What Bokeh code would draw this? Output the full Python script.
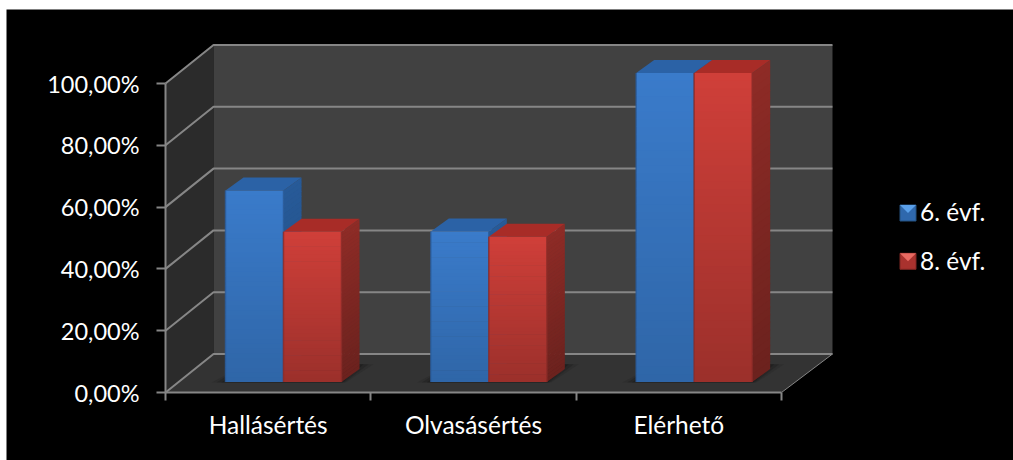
from bokeh.plotting import figure
from bokeh.models import Range1d, FixedTicker, Legend, LegendItem, ColumnDataSource
from bokeh.embed import file_html
from bokeh.resources import INLINE

categories = ["Hallásértés", "Olvasásértés", "Elérhető"]
series_names = ["6. évf.", "8. évf."]
values_6 = [62.0, 48.7, 100.0]
values_8 = [48.6, 47.0, 100.0]
y_ticks = [0, 20, 40, 60, 80, 100]
y_labels = {0: "0,00%", 20: "20,00%", 40: "40,00%", 60: "60,00%", 80: "80,00%", 100: "100,00%"}

FONT = "Lato"
GRID = "#868686"
PX_X = 616 / 3          # pixels per category
PX_Y = 3.09             # pixels per percent
WALL_DX, WALL_DY = 48 / PX_X, 38.5 / PX_Y
RIGHT_DX = 51 / PX_X
BAR_DX, BAR_DY = 18 / PX_X, 13 / PX_Y
BASE_DY = 10.5 / PX_Y
GROUP_START, BAR_W = 60 / PX_X, 58 / PX_X
ORIGIN_X, ORIGIN_Y = 165 - 6, 460 - 392   # axis origin inside the figure, from its left and bottom
FIG_W, FIG_H = 1007, 451

p = figure(width=FIG_W, height=FIG_H, output_backend="svg", toolbar_location=None,
           x_range=Range1d(-ORIGIN_X / PX_X, (FIG_W - ORIGIN_X) / PX_X),
           y_range=Range1d(-ORIGIN_Y / PX_Y, (FIG_H - ORIGIN_Y) / PX_Y),
           background_fill_color="black", border_fill_color="black",
           outline_line_color=None, min_border=0, margin=(9, 0, 0, 6))
p.xgrid.visible = False
p.ygrid.visible = False

# walls and floor
p.patch([0, WALL_DX, WALL_DX, 0], [0, WALL_DY, 100 + WALL_DY, 100], color="#2b2b2b", line_width=0)
p.patch([WALL_DX, 3 + RIGHT_DX, 3 + RIGHT_DX, WALL_DX],
        [WALL_DY, WALL_DY, 100 + WALL_DY, 100 + WALL_DY], color="#414141", line_width=0)
p.patch([0, 3, 3 + RIGHT_DX, WALL_DX], [0, 0, WALL_DY, WALL_DY], color="#333333", line_width=0)

# gridlines
p.multi_line([[0, WALL_DX, 3 + RIGHT_DX] for _ in y_ticks],
             [[t, t + WALL_DY, t + WALL_DY] for t in y_ticks], line_color=GRID, line_width=2)
p.line([3, 3 + RIGHT_DX], [0, WALL_DY], line_color=GRID, line_width=1)


def mix(a, b, t):
    return "#" + "".join(f"{round(a[i] + (b[i] - a[i]) * t):02x}" for i in range(3))


def draw_bar(x0, v, front, side, top, edge):
    x1 = x0 + BAR_W
    y0 = BASE_DY
    y1 = BASE_DY + v
    n = 40
    for i in range(n):
        a, b = y0 + v * i / n, y0 + v * (i + 1.15) / n
        if i == n - 1:
            b = y1
        t = 1 - i / (n - 1)
        p.patch([x1, x1 + BAR_DX, x1 + BAR_DX, x1], [a, a + BAR_DY, b + BAR_DY, b],
                color=mix(side[0], side[1], t), line_width=0)
    p.patch([x0, x1, x1 + BAR_DX, x0 + BAR_DX], [y1, y1, y1 + BAR_DY, y1 + BAR_DY], color=top, line_width=0)
    lefts, rights, bots, tops, cols = [], [], [], [], []
    for i in range(n):
        a, b = y0 + v * i / n, y0 + v * (i + 1.15) / n
        if i == n - 1:
            b = y1
        lefts.append(x0); rights.append(x1); bots.append(a); tops.append(b)
        cols.append(mix(front[0], front[1], 1 - i / (n - 1)))
    p.quad(left=lefts, right=rights, bottom=bots, top=tops, color=cols, line_width=0)
    p.line([x0, x0], [y0, y1], line_color=edge, line_width=1.5, line_alpha=0.8)
    p.line([x1, x1], [y0, y1], line_color=edge, line_width=1.5, line_alpha=0.8)


BLUE = dict(front=((0x3a, 0x7b, 0xca), (0x2f, 0x66, 0xa8)), side=((0x27, 0x5a, 0x98), (0x22, 0x4d, 0x80)),
            top="#2b62a6", edge="#2a5d9c")
RED = dict(front=((0xcf, 0x3f, 0x39), (0x9c, 0x30, 0x2b)), side=((0x8e, 0x2b, 0x26), (0x6c, 0x22, 0x1e)),
           top="#a82c27", edge="#8f2c28")

# shadows on the floor
for c in range(len(categories)):
    x0 = c + GROUP_START
    x1 = x0 + 2 * BAR_W
    for grow, alpha in ((14, 0.15), (9, 0.25), (4, 0.35)):
        g = grow / PX_X
        p.patch([x0 - g, x1 + g * 0.3, x1 + BAR_DX + g, x0 + BAR_DX + g * 0.2],
                [BASE_DY - 0.2, BASE_DY - 0.2, BASE_DY + BAR_DY + 1.5, BASE_DY + BAR_DY + 1.5],
                color="#141414", alpha=alpha, line_width=0)

# bars
for c in range(len(categories)):
    x0 = c + GROUP_START
    draw_bar(x0, values_6[c], **BLUE)
    draw_bar(x0 + BAR_W, values_8[c], **RED)

# axes sit at fixed data positions, inside the frame
p.yaxis.fixed_location = 0
p.xaxis.fixed_location = 0
p.yaxis.ticker = FixedTicker(ticks=y_ticks)
p.yaxis.major_label_overrides = y_labels
p.yaxis.bounds = (0, 100)
p.xaxis.ticker = FixedTicker(ticks=[i + 0.5 for i in range(len(categories))],
                             minor_ticks=list(range(len(categories) + 1)))
p.xaxis.major_label_overrides = {i + 0.5: c for i, c in enumerate(categories)}
p.xaxis.bounds = (0, 3)
for ax in (p.xaxis, p.yaxis):
    ax.axis_line_color = GRID
    ax.axis_line_width = 2
    ax.major_tick_line_color = GRID
    ax.major_tick_line_width = 2
    ax.minor_tick_line_color = GRID
    ax.minor_tick_line_width = 2
    ax.major_tick_in = 0
    ax.minor_tick_in = 0
    ax.major_label_text_color = "white"
    ax.major_label_text_font = FONT
p.yaxis.major_label_text_font_size = "23.5px"
p.xaxis.major_label_text_font_size = "24.5px"
p.yaxis.major_tick_out = 9
p.yaxis.minor_tick_out = 0
p.yaxis.major_label_standoff = 17
p.xaxis.major_tick_out = 0
p.xaxis.minor_tick_out = 8
p.xaxis.major_label_standoff = 9


def px_x(sx):
    return (sx - 165) / PX_X


def px_y(sy):
    return (392 - sy) / PX_Y


# legend keys: a bevelled square, lit from above
KEY = 16
for top_y, base, light, dark in ((204.5, "#2f68ad", "#5aa0ea", "#24507f"), (252.8, "#a9322e", "#e96a62", "#7f2623")):
    xa, xb, xm = px_x(899.5), px_x(899.5 + KEY), px_x(899.5 + KEY / 2)
    ya, yb, ym = px_y(top_y), px_y(top_y + KEY), px_y(top_y + KEY / 2)
    p.patch([xa, xb, xb, xa], [ya, ya, yb, yb], fill_color=base, line_color=dark, line_width=1)
    p.patch([xa, xb, xm], [ya, ya, ym], color=light, line_width=0)

nan = float("nan")
src = ColumnDataSource(dict(x=[nan], y=[nan]))
r6 = p.scatter("x", "y", source=src, marker="square", size=16, fill_color="#2f68ad", fill_alpha=0, line_alpha=0)
r8 = p.scatter("x", "y", source=src, marker="square", size=16, fill_color="#a9322e", fill_alpha=0, line_alpha=0)
legend = Legend(items=[LegendItem(label=series_names[0], renderers=[r6]),
                       LegendItem(label=series_names[1], renderers=[r8])],
                location=(874, 180), orientation="vertical",
                glyph_width=40, glyph_height=40, label_standoff=0, spacing=9, padding=0, margin=0,
                background_fill_alpha=0, border_line_color=None,
                label_text_color="white", label_text_font=FONT, label_text_font_size="24.5px")
p.add_layout(legend)

open("out.html", "w").write(file_html(p, INLINE))
